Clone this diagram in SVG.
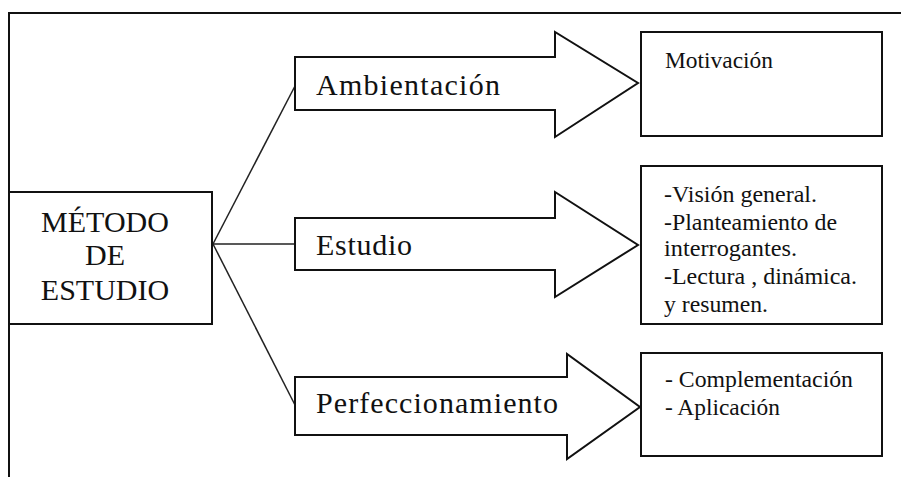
<svg xmlns="http://www.w3.org/2000/svg" width="901" height="477" viewBox="0 0 901 477">
<style>
.ln{fill:none;stroke:#111;stroke-width:2}
.cn{fill:none;stroke:#222;stroke-width:1.5}
.shp{fill:#fff;stroke:#111;stroke-width:2;stroke-linejoin:miter}
.big{font-family:'Liberation Serif','DejaVu Serif','Times New Roman',serif;font-size:30px;fill:#111}
.sm{font-family:'Liberation Serif','DejaVu Serif','Times New Roman',serif;font-size:24px;fill:#111}
</style>
<rect width="901" height="477" fill="#fff"/>
<path class="ln" d="M9,477 V13 H901"/>
<g id="connectors">
<line class="cn" x1="213" y1="244" x2="295" y2="86"/>
<line class="cn" x1="213" y1="244" x2="295" y2="244"/>
<line class="cn" x1="213" y1="244" x2="295" y2="405"/>
</g>
<g id="metodo">
<rect class="shp" x="9" y="192" width="203" height="132"/>
<text class="big" font-family="Liberation Serif, DejaVu Serif, serif" text-anchor="middle" x="105" y="232">MÉTODO</text>
<text class="big" font-family="Liberation Serif, DejaVu Serif, serif" text-anchor="middle" x="105" y="265">DE</text>
<text class="big" font-family="Liberation Serif, DejaVu Serif, serif" text-anchor="middle" x="105" y="300">ESTUDIO</text>
</g>
<g id="ambientacion">
<polygon class="shp" points="295,57 555,57 555,32 638,83 555,137 555,110 295,110"/>
<text class="big" x="316" y="95" textLength="184" lengthAdjust="spacing">Ambientación</text>
</g>
<g id="estudio">
<polygon class="shp" points="295,218 555,218 555,192 638,245 555,297 555,270 295,270"/>
<text class="big" x="316" y="255" textLength="96" lengthAdjust="spacing">Estudio</text>
</g>
<g id="perfeccionamiento">
<polygon class="shp" points="295,377 567,377 567,354 640,407 567,459 567,435 295,435"/>
<text class="big" x="316" y="413" textLength="242" lengthAdjust="spacing">Perfeccionamiento</text>
</g>
<g id="motivacion">
<rect class="shp" x="641" y="32" width="241" height="104"/>
<text class="sm" x="665" y="68" textLength="108" lengthAdjust="spacingAndGlyphs">Motivación</text>
</g>
<g id="estudio-detalle">
<rect class="shp" x="641" y="166" width="241" height="158"/>
<text class="sm" x="664" y="202" textLength="153" lengthAdjust="spacingAndGlyphs">-Visión general.</text>
<text class="sm" x="664" y="230" textLength="173" lengthAdjust="spacingAndGlyphs">-Planteamiento de</text>
<text class="sm" x="664" y="256" textLength="133" lengthAdjust="spacingAndGlyphs">interrogantes.</text>
<text class="sm" x="664" y="284" textLength="193" lengthAdjust="spacingAndGlyphs">-Lectura , dinámica.</text>
<text class="sm" x="664" y="312" textLength="104" lengthAdjust="spacingAndGlyphs">y resumen.</text>
</g>
<g id="perfeccionamiento-detalle">
<rect class="shp" x="641" y="353" width="241" height="103"/>
<text class="sm" x="665" y="387" textLength="188" lengthAdjust="spacingAndGlyphs">- Complementación</text>
<text class="sm" x="665" y="415" textLength="115" lengthAdjust="spacingAndGlyphs">- Aplicación</text>
</g>
</svg>
